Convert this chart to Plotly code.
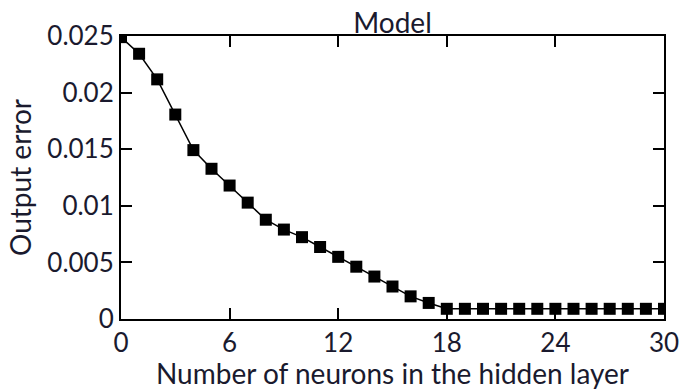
import plotly.graph_objects as go

neurons = list(range(0, 31))
output_error = [0.0249, 0.02343, 0.02117, 0.01806, 0.01492, 0.01327, 0.01179,
                0.01028, 0.00877, 0.0079, 0.00723, 0.00636, 0.00549,
                0.00462, 0.00375, 0.00287, 0.0020, 0.00142,
                0.0009, 0.0009, 0.0009, 0.0009, 0.0009, 0.0009, 0.0009,
                0.0009, 0.0009, 0.0009, 0.0009, 0.0009, 0.0009]

x_ticks = [0, 6, 12, 18, 24, 30]
y_ticks = [0, 0.005, 0.01, 0.015, 0.02, 0.025]
y_tick_labels = ["0", "0.005", "0.01", "0.015", "0.02", "0.025"]

txt = "#1a1a2e"
font = "Lato"

fig = go.Figure()
fig.add_trace(go.Scatter(
    x=neurons, y=output_error, mode="lines+markers",
    line=dict(color="black", width=1.5),
    marker=dict(symbol="square", size=12, color="black"),
    cliponaxis=True,
))

fig.update_layout(
    width=691, height=390,
    margin=dict(l=121, r=17, t=36, b=66),
    paper_bgcolor="white", plot_bgcolor="white",
    showlegend=False,
    font=dict(family=font, size=26, color=txt),
    title=dict(text="Model", x=0.5, xanchor="center", xref="paper",
               y=1, yref="paper", yanchor="bottom", pad=dict(b=3),
               font=dict(family=font, size=28, color=txt)),
)
fig.update_xaxes(
    range=[0, 30], tickvals=x_ticks, ticktext=[str(v) for v in x_ticks],
    ticks="inside", ticklen=11, tickwidth=2, tickcolor="black",
    showline=True, linecolor="black", linewidth=2, mirror="ticks",
    showgrid=False, zeroline=False,
    tickfont=dict(size=26, color=txt),
    title=dict(text="Number of neurons in the hidden layer", standoff=0,
               font=dict(size=28, color=txt)),
)
fig.update_yaxes(
    range=[0, 0.025], tickvals=y_ticks, ticktext=y_tick_labels,
    ticks="inside", ticklen=11, tickwidth=2, tickcolor="black",
    showline=True, linecolor="black", linewidth=2, mirror="ticks",
    showgrid=False, zeroline=False,
    tickfont=dict(size=26, color=txt),
    title=dict(text="Output error", standoff=8, font=dict(size=28, color=txt)),
)

fig.write_html("out.html")
